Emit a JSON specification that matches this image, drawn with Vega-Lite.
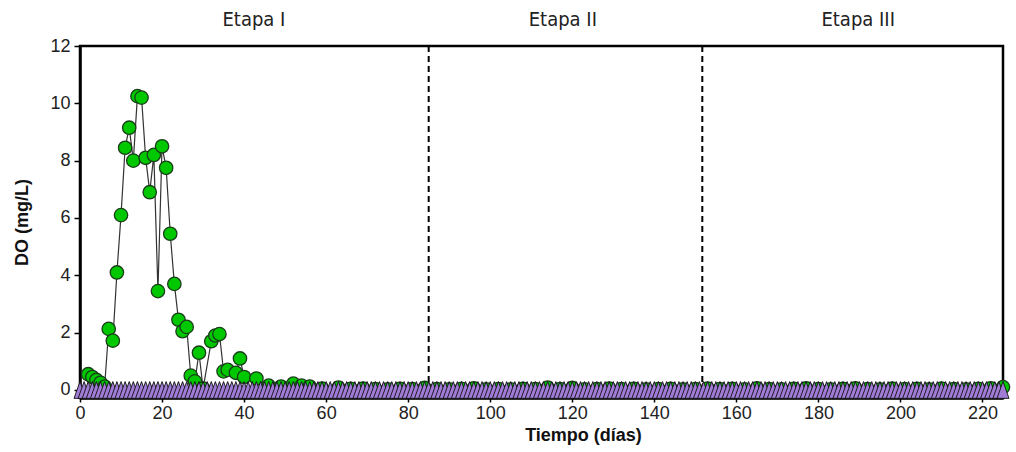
{
  "$schema": "https://vega.github.io/schema/vega-lite/v6.json",
  "width": 923,
  "height": 352,
  "autosize": {"type": "none"},
  "padding": {"left": 80, "top": 46, "right": 13, "bottom": 54},
  "config": {
    "view": {"stroke": "black", "strokeWidth": 2.5},
    "font": "Liberation Sans",
    "axis": {"labelFont": "Liberation Sans", "titleFont": "Liberation Sans"}
  },
  "datasets": {
    "green": [
      {"dia": 2, "DO": 0.55}, {"dia": 3, "DO": 0.45}, {"dia": 4, "DO": 0.35}, {"dia": 5, "DO": 0.25}, {"dia": 6, "DO": 0.12},
      {"dia": 7, "DO": 2.13}, {"dia": 8, "DO": 1.72}, {"dia": 9, "DO": 4.1}, {"dia": 10, "DO": 6.1}, {"dia": 11, "DO": 8.45},
      {"dia": 12, "DO": 9.15}, {"dia": 13, "DO": 8.0}, {"dia": 14, "DO": 10.25}, {"dia": 15, "DO": 10.2}, {"dia": 16, "DO": 8.1},
      {"dia": 17, "DO": 6.9}, {"dia": 18, "DO": 8.2}, {"dia": 19, "DO": 3.45}, {"dia": 20, "DO": 8.5}, {"dia": 21, "DO": 7.75},
      {"dia": 22, "DO": 5.45}, {"dia": 23, "DO": 3.7}, {"dia": 24, "DO": 2.45}, {"dia": 25, "DO": 2.05}, {"dia": 26, "DO": 2.2},
      {"dia": 27, "DO": 0.5}, {"dia": 28, "DO": 0.3}, {"dia": 29, "DO": 1.3}, {"dia": 30, "DO": 0.05}, {"dia": 32, "DO": 1.7},
      {"dia": 33, "DO": 1.9}, {"dia": 34, "DO": 1.95}, {"dia": 35, "DO": 0.65}, {"dia": 36, "DO": 0.7}, {"dia": 38, "DO": 0.6},
      {"dia": 39, "DO": 1.1}, {"dia": 40, "DO": 0.45}, {"dia": 43, "DO": 0.4}, {"dia": 46, "DO": 0.15}, {"dia": 49, "DO": 0.12},
      {"dia": 52, "DO": 0.22}, {"dia": 54, "DO": 0.15}, {"dia": 56, "DO": 0.12}, {"dia": 59, "DO": 0.05}, {"dia": 63, "DO": 0.08},
      {"dia": 66, "DO": 0.04}, {"dia": 69, "DO": 0.05}, {"dia": 72, "DO": 0.03}, {"dia": 75, "DO": 0.02}, {"dia": 78, "DO": 0.04},
      {"dia": 81, "DO": 0.03}, {"dia": 84, "DO": 0.07}, {"dia": 87, "DO": 0.03}, {"dia": 90, "DO": 0.02}, {"dia": 93, "DO": 0.04},
      {"dia": 96, "DO": 0.06}, {"dia": 99, "DO": 0.02}, {"dia": 102, "DO": 0.03}, {"dia": 105, "DO": 0.02}, {"dia": 108, "DO": 0.04},
      {"dia": 111, "DO": 0.03}, {"dia": 114, "DO": 0.08}, {"dia": 117, "DO": 0.03}, {"dia": 120, "DO": 0.07}, {"dia": 123, "DO": 0.02},
      {"dia": 126, "DO": 0.03}, {"dia": 129, "DO": 0.05}, {"dia": 132, "DO": 0.03}, {"dia": 135, "DO": 0.04}, {"dia": 138, "DO": 0.02},
      {"dia": 141, "DO": 0.03}, {"dia": 144, "DO": 0.04}, {"dia": 147, "DO": 0.02}, {"dia": 150, "DO": 0.03}, {"dia": 153, "DO": 0.05},
      {"dia": 156, "DO": 0.03}, {"dia": 159, "DO": 0.04}, {"dia": 162, "DO": 0.02}, {"dia": 165, "DO": 0.06}, {"dia": 168, "DO": 0.03},
      {"dia": 171, "DO": 0.02}, {"dia": 174, "DO": 0.04}, {"dia": 177, "DO": 0.06}, {"dia": 180, "DO": 0.03}, {"dia": 183, "DO": 0.02},
      {"dia": 186, "DO": 0.04}, {"dia": 189, "DO": 0.06}, {"dia": 192, "DO": 0.03}, {"dia": 195, "DO": 0.02}, {"dia": 198, "DO": 0.05},
      {"dia": 201, "DO": 0.03}, {"dia": 204, "DO": 0.04}, {"dia": 207, "DO": 0.02}, {"dia": 210, "DO": 0.05}, {"dia": 213, "DO": 0.03},
      {"dia": 216, "DO": 0.02}, {"dia": 219, "DO": 0.04}, {"dia": 222, "DO": 0.06}, {"dia": 225, "DO": 0.1}
    ],
    "purple": [
      {"dia": 0, "DO": 0}, {"dia": 1, "DO": 0}, {"dia": 2, "DO": 0}, {"dia": 3, "DO": 0}, {"dia": 4, "DO": 0}, {"dia": 5, "DO": 0}, {"dia": 6, "DO": 0}, {"dia": 7, "DO": 0}, {"dia": 8, "DO": 0}, {"dia": 9, "DO": 0},
      {"dia": 10, "DO": 0}, {"dia": 11, "DO": 0}, {"dia": 12, "DO": 0}, {"dia": 13, "DO": 0}, {"dia": 14, "DO": 0}, {"dia": 15, "DO": 0}, {"dia": 16, "DO": 0}, {"dia": 17, "DO": 0}, {"dia": 18, "DO": 0}, {"dia": 19, "DO": 0},
      {"dia": 20, "DO": 0}, {"dia": 21, "DO": 0}, {"dia": 22, "DO": 0}, {"dia": 23, "DO": 0}, {"dia": 24, "DO": 0}, {"dia": 25, "DO": 0}, {"dia": 26, "DO": 0}, {"dia": 27, "DO": 0}, {"dia": 28, "DO": 0}, {"dia": 29, "DO": 0},
      {"dia": 30, "DO": 0}, {"dia": 31, "DO": 0}, {"dia": 32, "DO": 0}, {"dia": 33, "DO": 0}, {"dia": 34, "DO": 0}, {"dia": 35, "DO": 0}, {"dia": 36, "DO": 0}, {"dia": 37, "DO": 0}, {"dia": 38, "DO": 0}, {"dia": 39, "DO": 0},
      {"dia": 40, "DO": 0}, {"dia": 41, "DO": 0}, {"dia": 42, "DO": 0}, {"dia": 43, "DO": 0}, {"dia": 44, "DO": 0}, {"dia": 45, "DO": 0}, {"dia": 46, "DO": 0}, {"dia": 47, "DO": 0}, {"dia": 48, "DO": 0}, {"dia": 49, "DO": 0},
      {"dia": 50, "DO": 0}, {"dia": 51, "DO": 0}, {"dia": 52, "DO": 0}, {"dia": 53, "DO": 0}, {"dia": 54, "DO": 0}, {"dia": 55, "DO": 0}, {"dia": 56, "DO": 0}, {"dia": 57, "DO": 0}, {"dia": 58, "DO": 0}, {"dia": 59, "DO": 0},
      {"dia": 60, "DO": 0}, {"dia": 61, "DO": 0}, {"dia": 62, "DO": 0}, {"dia": 63, "DO": 0}, {"dia": 64, "DO": 0}, {"dia": 65, "DO": 0}, {"dia": 66, "DO": 0}, {"dia": 67, "DO": 0}, {"dia": 68, "DO": 0}, {"dia": 69, "DO": 0},
      {"dia": 70, "DO": 0}, {"dia": 71, "DO": 0}, {"dia": 72, "DO": 0}, {"dia": 73, "DO": 0}, {"dia": 74, "DO": 0}, {"dia": 75, "DO": 0}, {"dia": 76, "DO": 0}, {"dia": 77, "DO": 0}, {"dia": 78, "DO": 0}, {"dia": 79, "DO": 0},
      {"dia": 80, "DO": 0}, {"dia": 81, "DO": 0}, {"dia": 82, "DO": 0}, {"dia": 83, "DO": 0}, {"dia": 84, "DO": 0}, {"dia": 85, "DO": 0}, {"dia": 86, "DO": 0}, {"dia": 87, "DO": 0}, {"dia": 88, "DO": 0}, {"dia": 89, "DO": 0},
      {"dia": 90, "DO": 0}, {"dia": 91, "DO": 0}, {"dia": 92, "DO": 0}, {"dia": 93, "DO": 0}, {"dia": 94, "DO": 0}, {"dia": 95, "DO": 0}, {"dia": 96, "DO": 0}, {"dia": 97, "DO": 0}, {"dia": 98, "DO": 0}, {"dia": 99, "DO": 0},
      {"dia": 100, "DO": 0}, {"dia": 101, "DO": 0}, {"dia": 102, "DO": 0}, {"dia": 103, "DO": 0}, {"dia": 104, "DO": 0}, {"dia": 105, "DO": 0}, {"dia": 106, "DO": 0}, {"dia": 107, "DO": 0}, {"dia": 108, "DO": 0}, {"dia": 109, "DO": 0},
      {"dia": 110, "DO": 0}, {"dia": 111, "DO": 0}, {"dia": 112, "DO": 0}, {"dia": 113, "DO": 0}, {"dia": 114, "DO": 0}, {"dia": 115, "DO": 0}, {"dia": 116, "DO": 0}, {"dia": 117, "DO": 0}, {"dia": 118, "DO": 0}, {"dia": 119, "DO": 0},
      {"dia": 120, "DO": 0}, {"dia": 121, "DO": 0}, {"dia": 122, "DO": 0}, {"dia": 123, "DO": 0}, {"dia": 124, "DO": 0}, {"dia": 125, "DO": 0}, {"dia": 126, "DO": 0}, {"dia": 127, "DO": 0}, {"dia": 128, "DO": 0}, {"dia": 129, "DO": 0},
      {"dia": 130, "DO": 0}, {"dia": 131, "DO": 0}, {"dia": 132, "DO": 0}, {"dia": 133, "DO": 0}, {"dia": 134, "DO": 0}, {"dia": 135, "DO": 0}, {"dia": 136, "DO": 0}, {"dia": 137, "DO": 0}, {"dia": 138, "DO": 0}, {"dia": 139, "DO": 0},
      {"dia": 140, "DO": 0}, {"dia": 141, "DO": 0}, {"dia": 142, "DO": 0}, {"dia": 143, "DO": 0}, {"dia": 144, "DO": 0}, {"dia": 145, "DO": 0}, {"dia": 146, "DO": 0}, {"dia": 147, "DO": 0}, {"dia": 148, "DO": 0}, {"dia": 149, "DO": 0},
      {"dia": 150, "DO": 0}, {"dia": 151, "DO": 0}, {"dia": 152, "DO": 0}, {"dia": 153, "DO": 0}, {"dia": 154, "DO": 0}, {"dia": 155, "DO": 0}, {"dia": 156, "DO": 0}, {"dia": 157, "DO": 0}, {"dia": 158, "DO": 0}, {"dia": 159, "DO": 0},
      {"dia": 160, "DO": 0}, {"dia": 161, "DO": 0}, {"dia": 162, "DO": 0}, {"dia": 163, "DO": 0}, {"dia": 164, "DO": 0}, {"dia": 165, "DO": 0}, {"dia": 166, "DO": 0}, {"dia": 167, "DO": 0}, {"dia": 168, "DO": 0}, {"dia": 169, "DO": 0},
      {"dia": 170, "DO": 0}, {"dia": 171, "DO": 0}, {"dia": 172, "DO": 0}, {"dia": 173, "DO": 0}, {"dia": 174, "DO": 0}, {"dia": 175, "DO": 0}, {"dia": 176, "DO": 0}, {"dia": 177, "DO": 0}, {"dia": 178, "DO": 0}, {"dia": 179, "DO": 0},
      {"dia": 180, "DO": 0}, {"dia": 181, "DO": 0}, {"dia": 182, "DO": 0}, {"dia": 183, "DO": 0}, {"dia": 184, "DO": 0}, {"dia": 185, "DO": 0}, {"dia": 186, "DO": 0}, {"dia": 187, "DO": 0}, {"dia": 188, "DO": 0}, {"dia": 189, "DO": 0},
      {"dia": 190, "DO": 0}, {"dia": 191, "DO": 0}, {"dia": 192, "DO": 0}, {"dia": 193, "DO": 0}, {"dia": 194, "DO": 0}, {"dia": 195, "DO": 0}, {"dia": 196, "DO": 0}, {"dia": 197, "DO": 0}, {"dia": 198, "DO": 0}, {"dia": 199, "DO": 0},
      {"dia": 200, "DO": 0}, {"dia": 201, "DO": 0}, {"dia": 202, "DO": 0}, {"dia": 203, "DO": 0}, {"dia": 204, "DO": 0}, {"dia": 205, "DO": 0}, {"dia": 206, "DO": 0}, {"dia": 207, "DO": 0}, {"dia": 208, "DO": 0}, {"dia": 209, "DO": 0},
      {"dia": 210, "DO": 0}, {"dia": 211, "DO": 0}, {"dia": 212, "DO": 0}, {"dia": 213, "DO": 0}, {"dia": 214, "DO": 0}, {"dia": 215, "DO": 0}, {"dia": 216, "DO": 0}, {"dia": 217, "DO": 0}, {"dia": 218, "DO": 0}, {"dia": 219, "DO": 0},
      {"dia": 220, "DO": 0}, {"dia": 221, "DO": 0}, {"dia": 222, "DO": 0}, {"dia": 223, "DO": 0}, {"dia": 224, "DO": 0}, {"dia": 225, "DO": 0}
    ],
    "stages": [
      {"dia": 42.4, "DO": 12.9, "label": "Etapa I"},
      {"dia": 117.7, "DO": 12.9, "label": "Etapa II"},
      {"dia": 189.7, "DO": 12.9, "label": "Etapa III"}
    ],
    "dividers": [{"dia": 85}, {"dia": 151.7}]
  },
  "layer": [
    {
      "data": {"name": "dividers"},
      "mark": {"type": "rule", "color": "black", "strokeWidth": 2, "strokeDash": [6, 4]},
      "encoding": {
        "x": {"field": "dia", "type": "quantitative", "scale": {"domain": [0, 225], "nice": false, "zero": false},
          "axis": {"values": [0, 20, 40, 60, 80, 100, 120, 140, 160, 180, 200, 220], "grid": false, "domainColor": "black", "domainWidth": 2.5,
            "tickColor": "black", "tickSize": 4, "tickWidth": 1.5, "labelFontSize": 18, "labelColor": "#222", "labelPadding": 2, "labelFlush": false,
            "title": "Tiempo (días)", "titleFontSize": 18, "titleFontWeight": "bold", "titleColor": "#111", "titleX": 503, "titlePadding": 4}}
      }
    },
    {
      "data": {"name": "green"},
      "mark": {"type": "line", "color": "#333333", "strokeWidth": 1.2},
      "encoding": {
        "x": {"field": "dia", "type": "quantitative"},
        "y": {"field": "DO", "type": "quantitative", "scale": {"domain": [-0.28, 12], "nice": false, "zero": false},
          "axis": {"values": [0, 2, 4, 6, 8, 10, 12], "grid": false, "domainColor": "black", "domainWidth": 2.5,
            "tickColor": "black", "tickSize": 6, "tickWidth": 1.5, "labelFontSize": 18, "labelColor": "#222", "labelPadding": 4, "labelFlush": false,
            "title": "DO (mg/L)", "titleFontSize": 18, "titleFontWeight": "bold", "titleColor": "#111", "titlePadding": 18}}
      }
    },
    {
      "data": {"name": "green"},
      "mark": {"type": "point", "shape": "circle", "filled": true, "size": 180, "fill": "#00C800", "stroke": "#1a3d1a", "strokeWidth": 1.3, "opacity": 1},
      "encoding": {
        "x": {"field": "dia", "type": "quantitative"},
        "y": {"field": "DO", "type": "quantitative"}
      }
    },
    {
      "data": {"name": "purple"},
      "mark": {"type": "point", "shape": "M0,-1.4L1,1.4L-1,1.4Z", "filled": true, "size": 144, "fill": "#A07CD6", "stroke": "#111111", "strokeWidth": 0.9, "opacity": 1},
      "encoding": {
        "x": {"field": "dia", "type": "quantitative"},
        "y": {"field": "DO", "type": "quantitative"}
      }
    },
    {
      "data": {"name": "stages"},
      "mark": {"type": "text", "fontSize": 20, "font": "Liberation Sans Narrow, DejaVu Sans Condensed, sans-serif", "color": "#222", "align": "center", "baseline": "middle"},
      "encoding": {
        "x": {"field": "dia", "type": "quantitative"},
        "y": {"field": "DO", "type": "quantitative"},
        "text": {"field": "label"}
      }
    }
  ]
}
